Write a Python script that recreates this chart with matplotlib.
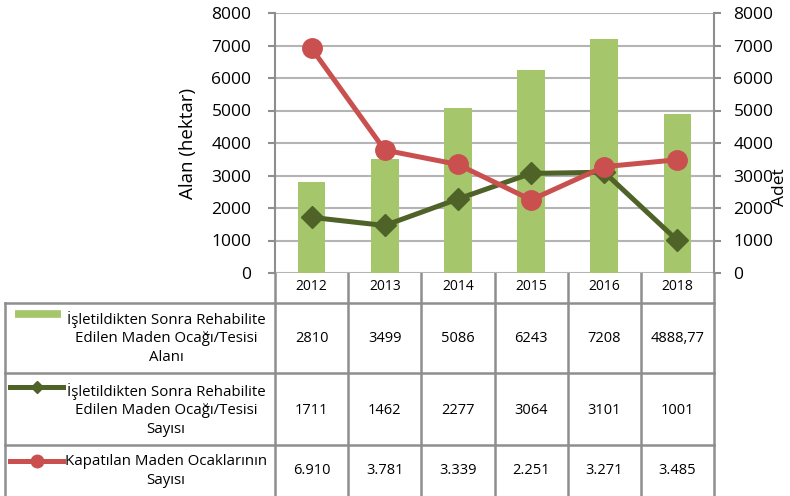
import numpy as np
import matplotlib.pyplot as plt

plt.rcParams['font.family'] = ['Open Sans', 'DejaVu Sans']

years = ['2012', '2013', '2014', '2015', '2016', '2018']
alan = [2810, 3499, 5086, 6243, 7208, 4888.77]
sayisi = [1711, 1462, 2277, 3064, 3101, 1001]
kapatilan = [6910, 3781, 3339, 2251, 3271, 3485]

alan_txt = ['2810', '3499', '5086', '6243', '7208', '4888,77']
sayisi_txt = ['1711', '1462', '2277', '3064', '3101', '1001']
kapatilan_txt = ['6.910', '3.781', '3.339', '2.251', '3.271', '3.485']

row_labels = ['İşletildikten Sonra Rehabilite\nEdilen Maden Ocağı/Tesisi\nAlanı',
              'İşletildikten Sonra Rehabilite\nEdilen Maden Ocağı/Tesisi\nSayısı',
              'Kapatılan Maden Ocaklarının\nSayısı']

bar_color = '#a6c66b'
green = '#4f6228'
red = '#c9504f'
grid_c = '#b4b4b4'
line_c = '#8e8e8e'

W, H = 790, 496
fig = plt.figure(figsize=(W / 100, H / 100), dpi=100)

# main plot area in pixels
px0, px1, py_top, py_bot = 275, 714, 13, 273
ax = fig.add_axes([px0 / W, 1 - py_bot / H, (px1 - px0) / W, (py_bot - py_top) / H])
x = np.arange(len(years))
ax.bar(x, alan, width=0.38, color=bar_color, zorder=2)
ax.plot(x, sayisi, color=green, lw=3.6, marker='D', ms=11, zorder=3)
ax.plot(x, kapatilan, color=red, lw=3.6, marker='o', ms=14, zorder=4)
ax.set_xlim(-0.5, len(years) - 0.5)
ax.set_ylim(0, 8000)
ax.set_yticks(range(0, 8001, 1000))
ax.yaxis.grid(True, color=grid_c, lw=1.5, zorder=0)
ax.set_axisbelow(True)
ax.set_xticks([])
for s in ['top', 'bottom']:
    ax.spines[s].set_visible(False)
for s in ['left', 'right']:
    ax.spines[s].set_color(line_c)
    ax.spines[s].set_linewidth(1.5)
ax.tick_params(axis='y', length=5, width=1.5, color=line_c, labelsize=12.5, pad=12)
ax.set_ylabel('Alan (hektar)', fontsize=13.5, labelpad=10)

ax2 = ax.twinx()
ax2.set_ylim(ax.get_ylim())
ax2.set_yticks(range(0, 8001, 1000))
for s in ax2.spines.values():
    s.set_visible(False)
ax2.tick_params(axis='y', length=5, width=1.5, color=line_c, labelsize=12.5, pad=9)
fig.text(780 / W, 1 - 187 / H, 'Adet', rotation=90, fontsize=12.5, ha='center', va='center')

# table drawn in pixel coordinates
tab = fig.add_axes([0, 0, 1, 1], zorder=-1)
tab.set_xlim(0, W)
tab.set_ylim(H, 0)
tab.axis('off')
tab.patch.set_alpha(0)

col_w = (px1 - px0) / len(years)
row_edges = [303, 373, 445]
lw_t = 1.8
for i in range(len(years) + 1):
    tab.plot([px0 + i * col_w] * 2, [py_bot, H], color=line_c, lw=lw_t)
tab.plot([5, 5], [row_edges[0], H], color=line_c, lw=lw_t)
for yy in row_edges:
    tab.plot([5, px1], [yy, yy], color=line_c, lw=lw_t)

for i, yr in enumerate(years):
    cx = px0 + (i + 0.5) * col_w
    tab.text(cx, 287, yr, ha='center', va='center', fontsize=10)

rows = [alan_txt, sayisi_txt, kapatilan_txt]
row_text_y = [338, 410, 471]
for r, vals in enumerate(rows):
    for i, v in enumerate(vals):
        cx = px0 + (i + 0.5) * col_w
        tab.text(cx, row_text_y[r], v, ha='center', va='center', fontsize=10.5)
    tab.text(166, row_text_y[r], row_labels[r], ha='center', va='center',
             fontsize=10.8, linespacing=1.3)

# legend keys inside the table
tab.plot([15, 61], [314, 314], color=bar_color, lw=5.5, solid_capstyle='butt')
tab.plot([10, 63], [387, 387], color=green, lw=3.6)
tab.plot([37], [387], color=green, marker='D', ms=6)
tab.plot([10, 63], [461, 461], color=red, lw=3.6)
tab.plot([37], [461], color=red, marker='o', ms=9)

fig.savefig('out.png', dpi=100)
